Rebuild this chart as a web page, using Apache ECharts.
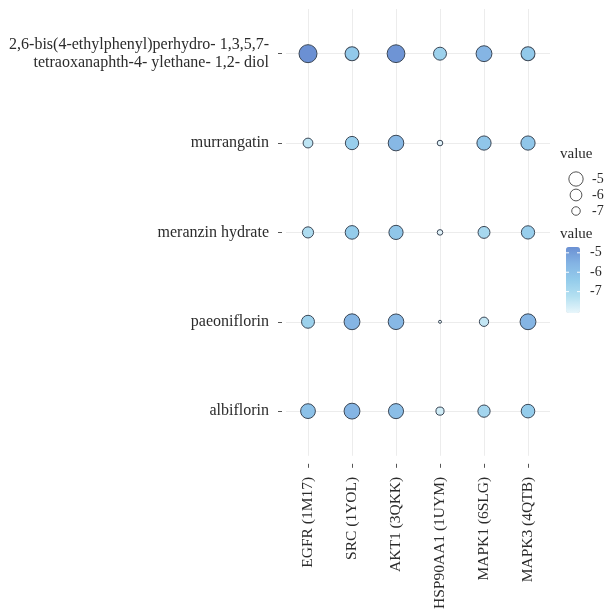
<!DOCTYPE html>
<html>
<head>
<meta charset="utf-8">
<script src="https://cdn.jsdelivr.net/npm/echarts@6/dist/echarts.min.js"></script>
<style>
  html, body { margin: 0; padding: 0; background: #ffffff; }
  #chart { width: 605px; height: 612px; }
</style>
</head>
<body>
<div id="chart"></div>
<script>
// Compounds (rows, top to bottom) and protein targets (columns)
const compounds = [
  '2,6-bis(4-ethylphenyl)perhydro- 1,3,5,7-\ntetraoxanaphth-4- ylethane- 1,2- diol',
  'murrangatin',
  'meranzin hydrate',
  'paeoniflorin',
  'albiflorin'
];
const targets = ['EGFR (1M17)', 'SRC (1YOL)', 'AKT1 (3QKK)', 'HSP90AA1 (1UYM)', 'MAPK1 (6SLG)', 'MAPK3 (4QTB)'];

// Docking scores per compound, in target order
const bisDiolScores     = [-4.7, -6.3, -4.8, -6.6, -5.6, -6.3];
const murrangatinScores = [-7.4, -6.5, -5.7, -8.0, -6.2, -6.2];
const meranzinScores    = [-7.1, -6.4, -6.2, -8.0, -6.9, -6.5];
const paeoniflorinScores= [-6.6, -5.6, -5.7, -8.1, -7.5, -5.6];
const albiflorinScores  = [-6.0, -5.6, -5.9, -7.7, -6.8, -6.4];

// Legend breaks
const legendBreaks = [-5, -6, -7];

const scoreRows = [bisDiolScores, murrangatinScores, meranzinScores, paeoniflorinScores, albiflorinScores];
const points = [];
scoreRows.forEach((row, r) => row.forEach((v, c) => points.push([c, r, v])));
const allValues = points.map(p => p[2]);
const vmin = Math.min(...allValues);
const vmax = Math.max(...allValues);

// Area-style size scale: smallest score -> 3px, largest -> 18px diameter
function sizeOf(v) {
  return 3 + 15 * Math.sqrt((v - vmin) / (vmax - vmin));
}

const serif = '"Liberation Serif", "DejaVu Serif", serif';
const textColor = '#2b2b2b';

// Colour bar geometry
const barLeft = 566, barTop = 247, barW = 14, barH = 66;
const barY = v => barTop + (vmax - v) / (vmax - vmin) * barH;

const graphics = [];
// size key
graphics.push({ type: 'text', left: 560, top: 147, style: { text: 'value', font: '15px ' + serif, fill: textColor } });
const keyY = [179, 195, 211];
legendBreaks.forEach((v, i) => {
  // hollow key circle, outline excluded from the marker diameter
  const d = sizeOf(v) - 3;
  graphics.push({ type: 'circle', shape: { cx: 576, cy: keyY[i], r: d / 2 }, style: { fill: '#ffffff', stroke: '#555555', lineWidth: 1 } });
  graphics.push({ type: 'text', x: 592, y: keyY[i], style: { text: String(v), font: '14px ' + serif, fill: textColor, verticalAlign: 'middle' } });
});
// colour key
graphics.push({ type: 'text', left: 560, top: 227, style: { text: 'value', font: '15px ' + serif, fill: textColor } });
legendBreaks.forEach(v => {
  const y = barY(v);
  graphics.push({ type: 'line', z: 100, shape: { x1: barLeft, y1: y, x2: barLeft + 3, y2: y }, style: { stroke: '#ffffff', lineWidth: 1 } });
  graphics.push({ type: 'line', z: 100, shape: { x1: barLeft + barW - 3, y1: y, x2: barLeft + barW, y2: y }, style: { stroke: '#ffffff', lineWidth: 1 } });
  graphics.push({ type: 'text', x: 590, y: y, style: { text: String(v), font: '14px ' + serif, fill: textColor, verticalAlign: 'middle' } });
});

const chart = echarts.init(document.getElementById('chart'), null, { renderer: 'canvas' });
chart.setOption({
  backgroundColor: '#ffffff',
  animation: false,
  grid: { left: 286, top: 9, width: 264, height: 448, containLabel: false },
  xAxis: {
    type: 'category',
    data: targets,
    offset: 8,
    axisLine: { show: false },
    axisTick: { show: true, alignWithLabel: true, length: 4, lineStyle: { color: '#555555' } },
    splitLine: { show: true, alignWithLabel: true, lineStyle: { color: '#ececec', width: 1 } },
    axisLabel: { rotate: 90, margin: 13, interval: 0, fontFamily: serif, fontSize: 15.5, color: textColor }
  },
  yAxis: {
    type: 'category',
    data: compounds,
    inverse: true,
    offset: 4,
    axisLine: { show: false },
    axisTick: { show: true, alignWithLabel: true, length: 4, lineStyle: { color: '#555555' } },
    splitLine: { show: true, alignWithLabel: true, lineStyle: { color: '#ececec', width: 1 } },
    axisLabel: { margin: 13, interval: 0, fontFamily: serif, fontSize: 16, lineHeight: 18, color: textColor, align: 'right' }
  },
  visualMap: {
    type: 'continuous',
    min: vmin,
    max: vmax,
    dimension: 2,
    seriesIndex: 0,
    calculable: false,
    hoverLink: false,
    inRange: { color: ['#e8f6fb', '#b4e0f1', '#94cceb', '#84b4e4', '#6b90d3'] },
    itemWidth: barW,
    itemHeight: barH,
    left: barLeft,
    top: barTop,
    padding: 0,
    text: null
  },
  series: [{
    type: 'scatter',
    data: points,
    symbol: 'circle',
    symbolSize: val => sizeOf(val[2]),
    itemStyle: { borderColor: '#3b4756', borderWidth: 1, opacity: 1 }
  }],
  graphic: graphics
});
</script>
</body>
</html>
